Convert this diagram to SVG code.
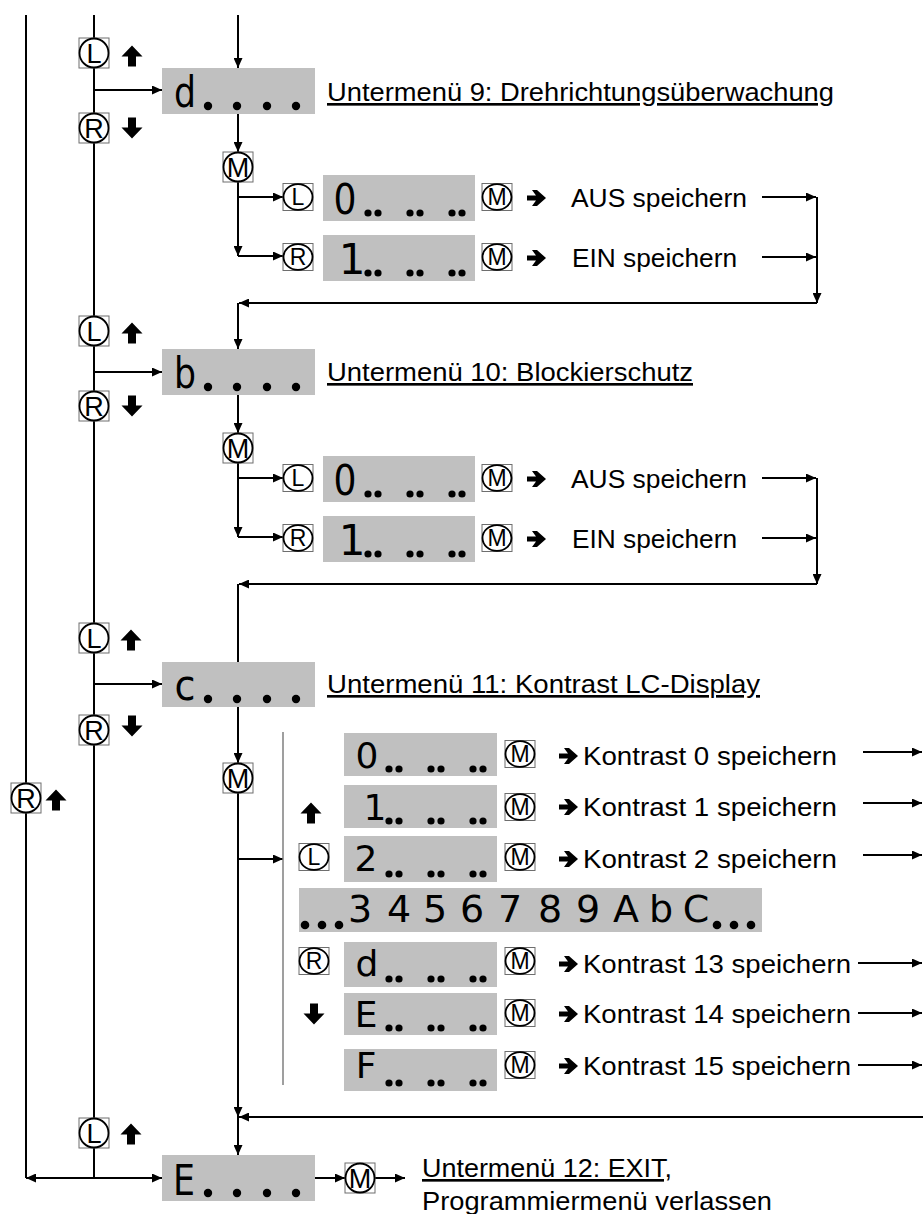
<svg xmlns="http://www.w3.org/2000/svg" width="923" height="1214" viewBox="0 0 923 1214">
<defs>
<style>
.ln{stroke:#000;stroke-width:2;fill:none}
.thin{stroke:#7f7f7f;stroke-width:1.5;fill:none}
.disp{fill:#c0c0c0}
.dot{fill:#000}
.bb{fill:#fff;stroke:#6e6e6e;stroke-width:1}
.bc{fill:#fff;stroke:#000;stroke-width:1.8}
.bt{font-family:"Liberation Sans",Arial,sans-serif;font-size:27px;text-anchor:middle;fill:#000}
.bts{font-family:"Liberation Sans",Arial,sans-serif;font-size:23px;text-anchor:middle;fill:#000}
.lbl{font-family:"Liberation Sans",Arial,sans-serif;font-size:26.5px;fill:#000}
.ul{text-decoration:underline}
.seg{font-family:"DejaVu Sans",sans-serif;text-anchor:middle;fill:#000}
</style>
<marker id="ah" markerWidth="10" markerHeight="9" refX="10" refY="4.5" orient="auto" markerUnits="userSpaceOnUse"><path d="M0,0 L10,4.5 L0,9 Z" fill="#000"/></marker>
<path id="up" d="M0,-10.5 L10.5,0.5 L4,0.5 L4,10.5 L-4,10.5 L-4,0.5 L-10.5,0.5 Z"/>
<path id="dn" d="M0,10.5 L10.5,-0.5 L4,-0.5 L4,-10.5 L-4,-10.5 L-4,-0.5 L-10.5,-0.5 Z"/>
<path id="ra" d="M-10,-2.5 H-1 L-5,-8 H0 L9,0 L0,8 H-5 L-1,2.5 H-10 Z"/>
<g id="btn"><rect class="bb" x="-15" y="-15" width="30" height="30"/><ellipse class="bc" rx="14.5" ry="14.5"/></g>
<g id="btns"><rect class="bb" x="-15" y="-13.5" width="30" height="27"/><ellipse class="bc" rx="14.5" ry="12.8"/></g>
</defs>
<rect width="923" height="1214" fill="#fff"/>

<g id="connectors" class="ln">
<path d="M26,15 V1178"/>
<path d="M94,15 V1178"/>
<path d="M238,15 V68" marker-end="url(#ah)"/>
<path d="M94,90 H162" marker-end="url(#ah)"/>
<path d="M238,114 V152" marker-end="url(#ah)"/>
<path d="M238,182 V256" marker-end="url(#ah)"/>
<path d="M238,197 H283" marker-end="url(#ah)"/>
<path d="M238,256 H283" marker-end="url(#ah)"/>
<path d="M762,197 H816" marker-end="url(#ah)"/>
<path d="M762,257 H816" marker-end="url(#ah)"/>
<path d="M817,197 V303" marker-end="url(#ah)"/>
<path d="M817,303 H239" marker-end="url(#ah)"/>
<path d="M238,303 V349" marker-end="url(#ah)"/>
<path d="M94,372 H162" marker-end="url(#ah)"/>
<path d="M238,395 V433" marker-end="url(#ah)"/>
<path d="M238,463 V537" marker-end="url(#ah)"/>
<path d="M238,478 H283" marker-end="url(#ah)"/>
<path d="M238,537 H283" marker-end="url(#ah)"/>
<path d="M762,478 H816" marker-end="url(#ah)"/>
<path d="M762,538 H816" marker-end="url(#ah)"/>
<path d="M817,478 V584" marker-end="url(#ah)"/>
<path d="M817,584 H239" marker-end="url(#ah)"/>
<path d="M238,584 V662"/>
<path d="M94,684 H162" marker-end="url(#ah)"/>
<path d="M238,707 V763" marker-end="url(#ah)"/>
<path d="M238,793 V1117" marker-end="url(#ah)"/>
<path d="M238,859 H283" marker-end="url(#ah)"/>
<path d="M923,1117 H239" marker-end="url(#ah)"/>
<path d="M238,1117 V1155" marker-end="url(#ah)"/>
<path d="M863,752 H922" marker-end="url(#ah)"/>
<path d="M863,803 H922" marker-end="url(#ah)"/>
<path d="M863,855 H922" marker-end="url(#ah)"/>
<path d="M858,963 H922" marker-end="url(#ah)"/>
<path d="M858,1013 H922" marker-end="url(#ah)"/>
<path d="M858,1065 H922" marker-end="url(#ah)"/>
<path d="M94,1178 H26" marker-end="url(#ah)"/>
<path d="M94,1178 H162" marker-end="url(#ah)"/>
<path d="M315,1178 H345" marker-end="url(#ah)"/>
<path d="M375,1178 H405" marker-end="url(#ah)"/>
<path class="thin" d="M283,732 V1085"/>
</g>

<g id="btn-L1" transform="translate(94,53)"><use href="#btn"/><text class="bt" y="9.5">L</text></g>
<g id="btn-R1" transform="translate(94,128)"><use href="#btn"/><text class="bt" y="9.5">R</text></g>
<g id="btn-L2" transform="translate(94,331)"><use href="#btn"/><text class="bt" y="9.5">L</text></g>
<g id="btn-R2" transform="translate(94,406)"><use href="#btn"/><text class="bt" y="9.5">R</text></g>
<g id="btn-L3" transform="translate(94,638)"><use href="#btn"/><text class="bt" y="9.5">L</text></g>
<g id="btn-R3" transform="translate(94,730)"><use href="#btn"/><text class="bt" y="9.5">R</text></g>
<g id="btn-L4" transform="translate(94,1133)"><use href="#btn"/><text class="bt" y="9.5">L</text></g>
<g id="btn-Rback" transform="translate(26,798)"><use href="#btn"/><text class="bt" y="9.5">R</text></g>
<g id="arrows-nav">
<use href="#up" x="132" y="56"/>
<use href="#dn" x="132" y="128"/>
<use href="#up" x="132" y="333"/>
<use href="#dn" x="132" y="406"/>
<use href="#up" x="131" y="640"/>
<use href="#dn" x="132" y="726"/>
<use href="#up" x="131" y="1134"/>
<use href="#up" x="56" y="800"/>
<use href="#up" x="311" y="813"/>
<use href="#dn" x="314" y="1014"/>
</g>

<g id="menu-d">
<rect class="disp" x="162" y="68" width="153" height="46"/>
<text class="seg" x="185" y="107" font-size="42" textLength="22" lengthAdjust="spacingAndGlyphs">d</text>
<circle class="dot" cx="208" cy="106" r="4.2"/><circle class="dot" cx="237" cy="106" r="4.2"/><circle class="dot" cx="267" cy="106" r="4.2"/><circle class="dot" cx="296" cy="106" r="4.2"/>
</g>
<g id="label-9"><text class="lbl ul" x="327" y="101" textLength="507" lengthAdjust="spacingAndGlyphs">Untermenü 9: Drehrichtungsüberwachung</text></g>
<g id="btn-M-d" transform="translate(238,167)"><use href="#btn"/><text class="bt" y="9.5">M</text></g>
<g id="opt-d0">
<g transform="translate(298,197)"><use href="#btns"/><text class="bts" y="8">L</text></g>
<rect class="disp" x="323" y="175" width="152" height="46"/>
<text class="seg" x="345" y="214" font-size="42" textLength="23" lengthAdjust="spacingAndGlyphs">0</text>
<circle class="dot" cx="368" cy="213" r="3.6"/><circle class="dot" cx="378" cy="213" r="3.6"/><circle class="dot" cx="410" cy="213" r="3.6"/><circle class="dot" cx="420" cy="213" r="3.6"/><circle class="dot" cx="452" cy="213" r="3.6"/><circle class="dot" cx="462" cy="213" r="3.6"/>
<g transform="translate(497,197)"><use href="#btns"/><text class="bts" y="8">M</text></g>
<use href="#ra" x="537" y="198"/>
<text class="lbl" x="571" y="207" textLength="176" lengthAdjust="spacingAndGlyphs">AUS speichern</text>
</g>
<g id="opt-d1">
<g transform="translate(298,257)"><use href="#btns"/><text class="bts" y="8">R</text></g>
<rect class="disp" x="323" y="235" width="152" height="46"/>
<text class="seg" x="352" y="274" font-size="42">1</text>
<circle class="dot" cx="368" cy="273" r="3.6"/><circle class="dot" cx="378" cy="273" r="3.6"/><circle class="dot" cx="410" cy="273" r="3.6"/><circle class="dot" cx="420" cy="273" r="3.6"/><circle class="dot" cx="452" cy="273" r="3.6"/><circle class="dot" cx="462" cy="273" r="3.6"/>
<g transform="translate(497,257)"><use href="#btns"/><text class="bts" y="8">M</text></g>
<use href="#ra" x="537" y="258"/>
<text class="lbl" x="572" y="267" textLength="165" lengthAdjust="spacingAndGlyphs">EIN speichern</text>
</g>

<g id="menu-b">
<rect class="disp" x="162" y="349" width="153" height="46"/>
<text class="seg" x="185" y="388" font-size="42" textLength="22" lengthAdjust="spacingAndGlyphs">b</text>
<circle class="dot" cx="208" cy="387" r="4.2"/><circle class="dot" cx="237" cy="387" r="4.2"/><circle class="dot" cx="267" cy="387" r="4.2"/><circle class="dot" cx="296" cy="387" r="4.2"/>
</g>
<g id="label-10"><text class="lbl ul" x="327" y="381" textLength="366" lengthAdjust="spacingAndGlyphs">Untermenü 10: Blockierschutz</text></g>
<g id="btn-M-b" transform="translate(238,448)"><use href="#btn"/><text class="bt" y="9.5">M</text></g>
<g id="opt-b0">
<g transform="translate(298,478)"><use href="#btns"/><text class="bts" y="8">L</text></g>
<rect class="disp" x="323" y="456" width="152" height="46"/>
<text class="seg" x="345" y="495" font-size="42" textLength="23" lengthAdjust="spacingAndGlyphs">0</text>
<circle class="dot" cx="368" cy="494" r="3.6"/><circle class="dot" cx="378" cy="494" r="3.6"/><circle class="dot" cx="410" cy="494" r="3.6"/><circle class="dot" cx="420" cy="494" r="3.6"/><circle class="dot" cx="452" cy="494" r="3.6"/><circle class="dot" cx="462" cy="494" r="3.6"/>
<g transform="translate(497,478)"><use href="#btns"/><text class="bts" y="8">M</text></g>
<use href="#ra" x="537" y="479"/>
<text class="lbl" x="571" y="488" textLength="176" lengthAdjust="spacingAndGlyphs">AUS speichern</text>
</g>
<g id="opt-b1">
<g transform="translate(298,538)"><use href="#btns"/><text class="bts" y="8">R</text></g>
<rect class="disp" x="323" y="516" width="152" height="46"/>
<text class="seg" x="352" y="555" font-size="42">1</text>
<circle class="dot" cx="368" cy="554" r="3.6"/><circle class="dot" cx="378" cy="554" r="3.6"/><circle class="dot" cx="410" cy="554" r="3.6"/><circle class="dot" cx="420" cy="554" r="3.6"/><circle class="dot" cx="452" cy="554" r="3.6"/><circle class="dot" cx="462" cy="554" r="3.6"/>
<g transform="translate(497,538)"><use href="#btns"/><text class="bts" y="8">M</text></g>
<use href="#ra" x="537" y="539"/>
<text class="lbl" x="572" y="548" textLength="165" lengthAdjust="spacingAndGlyphs">EIN speichern</text>
</g>

<g id="menu-c">
<rect class="disp" x="162" y="662" width="153" height="45"/>
<text class="seg" x="185" y="700" font-size="42" textLength="21" lengthAdjust="spacingAndGlyphs">c</text>
<circle class="dot" cx="208" cy="699" r="4.2"/><circle class="dot" cx="237" cy="699" r="4.2"/><circle class="dot" cx="267" cy="699" r="4.2"/><circle class="dot" cx="296" cy="699" r="4.2"/>
</g>
<g id="label-11"><text class="lbl ul" x="327" y="693" textLength="433" lengthAdjust="spacingAndGlyphs">Untermenü 11: Kontrast LC-Display</text></g>
<g id="btn-M-c" transform="translate(238,778)"><use href="#btn"/><text class="bt" y="9.5">M</text></g>
<g id="btn-L-k" transform="translate(314,857)"><use href="#btns"/><text class="bts" y="8">L</text></g>
<g id="btn-R-k" transform="translate(314,961)"><use href="#btns"/><text class="bts" y="8">R</text></g>

<g id="k0">
<rect class="disp" x="344" y="733" width="153" height="43"/>
<text class="seg" x="367" y="768" font-size="36">0</text>
<circle class="dot" cx="389" cy="769" r="3.6"/><circle class="dot" cx="399" cy="769" r="3.6"/><circle class="dot" cx="431" cy="769" r="3.6"/><circle class="dot" cx="441" cy="769" r="3.6"/><circle class="dot" cx="473" cy="769" r="3.6"/><circle class="dot" cx="483" cy="769" r="3.6"/>
<g transform="translate(520,754)"><use href="#btns"/><text class="bts" y="8">M</text></g>
<use href="#ra" x="569" y="756"/>
<text class="lbl" x="583" y="765" textLength="254" lengthAdjust="spacingAndGlyphs">Kontrast 0 speichern</text>
</g>
<g id="k1">
<rect class="disp" x="344" y="785" width="153" height="43"/>
<text class="seg" x="375" y="820" font-size="36">1</text>
<circle class="dot" cx="389" cy="821" r="3.6"/><circle class="dot" cx="399" cy="821" r="3.6"/><circle class="dot" cx="431" cy="821" r="3.6"/><circle class="dot" cx="441" cy="821" r="3.6"/><circle class="dot" cx="473" cy="821" r="3.6"/><circle class="dot" cx="483" cy="821" r="3.6"/>
<g transform="translate(520,807)"><use href="#btns"/><text class="bts" y="8">M</text></g>
<use href="#ra" x="569" y="807"/>
<text class="lbl" x="583" y="816" textLength="254" lengthAdjust="spacingAndGlyphs">Kontrast 1 speichern</text>
</g>
<g id="k2">
<rect class="disp" x="344" y="836" width="153" height="46"/>
<text class="seg" x="366" y="871" font-size="36">2</text>
<circle class="dot" cx="389" cy="874" r="3.6"/><circle class="dot" cx="399" cy="874" r="3.6"/><circle class="dot" cx="431" cy="874" r="3.6"/><circle class="dot" cx="441" cy="874" r="3.6"/><circle class="dot" cx="473" cy="874" r="3.6"/><circle class="dot" cx="483" cy="874" r="3.6"/>
<g transform="translate(520,857)"><use href="#btns"/><text class="bts" y="8">M</text></g>
<use href="#ra" x="569" y="859"/>
<text class="lbl" x="583" y="868" textLength="254" lengthAdjust="spacingAndGlyphs">Kontrast 2 speichern</text>
</g>
<g id="k-band">
<rect class="disp" x="299" y="888" width="463" height="44"/>
<circle class="dot" cx="305" cy="925" r="4.3"/><circle class="dot" cx="322" cy="925" r="4.3"/><circle class="dot" cx="339" cy="925" r="4.3"/>
<text class="seg" font-size="38" x="360 399 435 472 510 550 588 626 661 696" y="922">3456789AbC</text>
<circle class="dot" cx="717" cy="925" r="4.3"/><circle class="dot" cx="734" cy="925" r="4.3"/><circle class="dot" cx="751" cy="925" r="4.3"/>
</g>
<g id="k13">
<rect class="disp" x="344" y="942" width="153" height="45"/>
<text class="seg" x="367" y="976" font-size="36">d</text>
<circle class="dot" cx="389" cy="979" r="3.6"/><circle class="dot" cx="399" cy="979" r="3.6"/><circle class="dot" cx="431" cy="979" r="3.6"/><circle class="dot" cx="441" cy="979" r="3.6"/><circle class="dot" cx="473" cy="979" r="3.6"/><circle class="dot" cx="483" cy="979" r="3.6"/>
<g transform="translate(520,961)"><use href="#btns"/><text class="bts" y="8">M</text></g>
<use href="#ra" x="569" y="964"/>
<text class="lbl" x="583" y="973" textLength="268" lengthAdjust="spacingAndGlyphs">Kontrast 13 speichern</text>
</g>
<g id="k14">
<rect class="disp" x="344" y="993" width="153" height="42"/>
<text class="seg" x="366" y="1027" font-size="36">E</text>
<circle class="dot" cx="389" cy="1028" r="3.6"/><circle class="dot" cx="399" cy="1028" r="3.6"/><circle class="dot" cx="431" cy="1028" r="3.6"/><circle class="dot" cx="441" cy="1028" r="3.6"/><circle class="dot" cx="473" cy="1028" r="3.6"/><circle class="dot" cx="483" cy="1028" r="3.6"/>
<g transform="translate(520,1013)"><use href="#btns"/><text class="bts" y="8">M</text></g>
<use href="#ra" x="569" y="1014"/>
<text class="lbl" x="583" y="1023" textLength="268" lengthAdjust="spacingAndGlyphs">Kontrast 14 speichern</text>
</g>
<g id="k15">
<rect class="disp" x="344" y="1049" width="153" height="42"/>
<text class="seg" x="366" y="1078" font-size="36">F</text>
<circle class="dot" cx="389" cy="1083" r="3.6"/><circle class="dot" cx="399" cy="1083" r="3.6"/><circle class="dot" cx="431" cy="1083" r="3.6"/><circle class="dot" cx="441" cy="1083" r="3.6"/><circle class="dot" cx="473" cy="1083" r="3.6"/><circle class="dot" cx="483" cy="1083" r="3.6"/>
<g transform="translate(520,1065)"><use href="#btns"/><text class="bts" y="8">M</text></g>
<use href="#ra" x="569" y="1066"/>
<text class="lbl" x="583" y="1075" textLength="268" lengthAdjust="spacingAndGlyphs">Kontrast 15 speichern</text>
</g>

<g id="menu-E">
<rect class="disp" x="162" y="1155" width="153" height="46"/>
<text class="seg" x="184" y="1195" font-size="42" textLength="22" lengthAdjust="spacingAndGlyphs">E</text>
<circle class="dot" cx="208" cy="1193" r="4.2"/><circle class="dot" cx="237" cy="1193" r="4.2"/><circle class="dot" cx="267" cy="1193" r="4.2"/><circle class="dot" cx="296" cy="1193" r="4.2"/>
</g>
<g id="btn-M-E" transform="translate(360,1178)"><use href="#btn"/><text class="bt" y="9.5">M</text></g>
<g id="label-12">
<text class="lbl ul" x="422" y="1177" textLength="250" lengthAdjust="spacingAndGlyphs">Untermenü 12: EXIT,</text>
<text class="lbl" x="422" y="1210" textLength="350" lengthAdjust="spacingAndGlyphs">Programmiermenü verlassen</text>
</g>
</svg>
